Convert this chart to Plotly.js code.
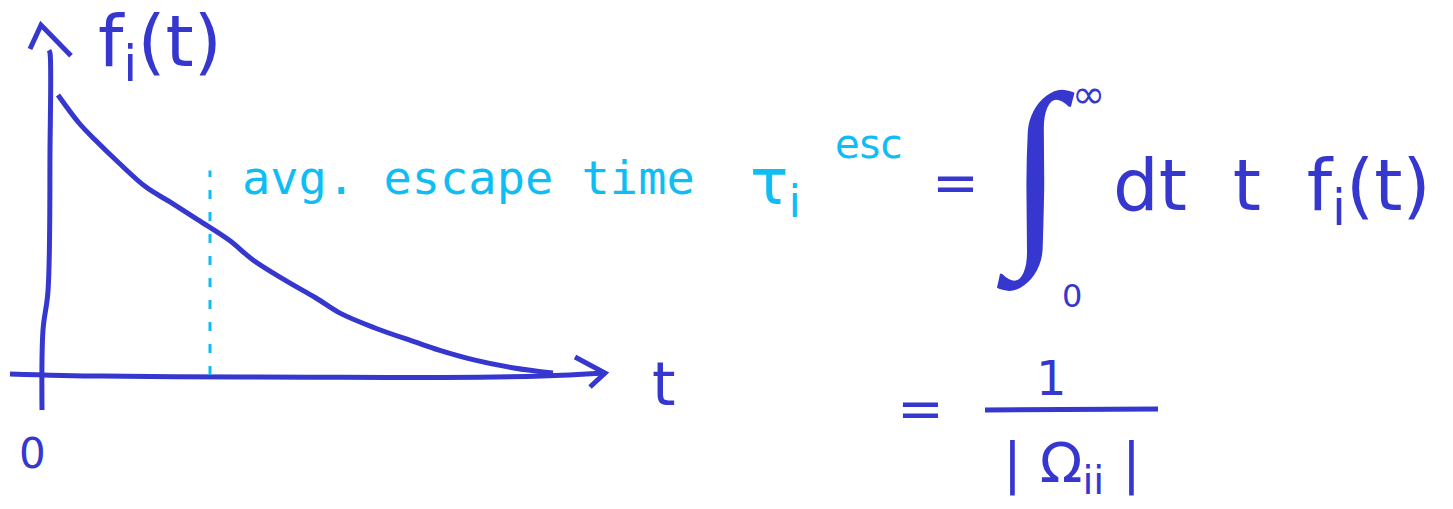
<!DOCTYPE html>
<html>
<head>
<meta charset="utf-8">
<script src="https://cdn.plot.ly/plotly-3.0.1.min.js"></script>
<style>
  html, body { margin: 0; padding: 0; background: #ffffff; }
  #plot { width: 1453px; height: 509px; }
</style>
</head>
<body>
<div id="plot"></div>
<script>
// Escape-time density f_i(t): sampled hand-drawn decay curve
const tValues = [0.16, 0.37, 0.53, 0.77, 1.04, 1.28, 1.56, 1.87, 2.11, 2.43, 2.74, 2.98, 3.33, 3.73, 3.97, 4.32, 4.72, 5.11];
const fValues = [1.0, 0.90, 0.84, 0.757, 0.671, 0.618, 0.554, 0.482, 0.411, 0.339, 0.275, 0.221, 0.168, 0.118, 0.089, 0.054, 0.025, 0.007];

// Average escape time marker
const avgEscapeT = 1.68;
const avgMarkerTop = 0.73;

// Hand-drawn axes (t horizontal, f vertical)
const tAxisT = [-0.32, 0.6, 2.0, 3.0, 4.0, 5.0, 5.63];
const tAxisF = [0.004, -0.004, -0.007, -0.008, -0.009, -0.004, 0.007];
const tArrowT = [5.33, 5.63, 5.48];
const tArrowF = [0.064, 0.007, -0.043];
const fAxisT = [0.0, 0.01, 0.06, 0.08, 0.08, 0.07];
const fAxisF = [-0.125, 0.16, 0.30, 0.80, 1.15, 1.16];
const fArrowT = [-0.12, -0.01, 0.29];
const fArrowF = [1.164, 1.25, 1.14];

const blue = '#3637cf';
const cyan = '#0fbdf4';
const W = 1453, H = 509;
const px = x => x / W;
const py = y => 1 - y / H;
const font = 'DejaVu Sans, sans-serif';

const traces = [
  { x: tAxisT, y: tAxisF, mode: 'lines', line: { color: blue, width: 5, shape: 'spline' }, hoverinfo: 'skip' },
  { x: tArrowT, y: tArrowF, mode: 'lines', line: { color: blue, width: 5 }, hoverinfo: 'skip' },
  { x: fAxisT, y: fAxisF, mode: 'lines', line: { color: blue, width: 5, shape: 'spline' }, hoverinfo: 'skip' },
  { x: fArrowT, y: fArrowF, mode: 'lines', line: { color: blue, width: 5 }, hoverinfo: 'skip' },
  { x: [avgEscapeT, avgEscapeT], y: [0, avgMarkerTop], mode: 'lines',
    line: { color: cyan, width: 3, dash: '9px,13px' }, hoverinfo: 'skip' },
  { x: tValues, y: fValues, mode: 'lines', line: { color: blue, width: 5, shape: 'spline' }, hoverinfo: 'skip' }
];

function label(text, x, y, size, color, extra) {
  return Object.assign({ text: text, x: px(x), y: py(y), xref: 'paper', yref: 'paper',
    showarrow: false, xanchor: 'center', yanchor: 'middle',
    font: { family: font, size: size, color: color } }, extra || {});
}

const annotations = [
  label('f<sub>i</sub>(t)', 160, 46, 72, blue),
  label('0', 32, 453, 42, blue),
  label('t', 664, 384, 60, blue),
  label('avg. escape time', 240, 178, 47, cyan,
    { xanchor: 'left', font: { family: 'DejaVu Sans Mono, monospace', size: 47, color: cyan } }),
  label('τ<sub>i</sub>', 775, 186, 64, cyan),
  label('esc', 868, 144, 40, cyan),
  label('=', 955, 182, 56, blue),
  label('∫', 1036, 172, 205, blue, { font: { family: 'Liberation Serif, serif', size: 205, color: blue } }),
  label('∞', 1088, 94, 40, blue),
  label('0', 1072, 296, 32, blue),
  label('dt  t  f<sub>i</sub>(t)', 1272, 190, 72, blue),
  label('=', 920, 408, 56, blue),
  label('1', 1051, 378, 48, blue),
  label('| Ω<sub>ii</sub> |', 1072, 466, 56, blue)
];

const shapes = [
  { type: 'line', xref: 'paper', yref: 'paper', x0: px(985), x1: px(1158), y0: py(410), y1: py(409),
    line: { color: blue, width: 5 } }
];

const layout = {
  width: W, height: H,
  margin: { l: 0, r: 0, t: 0, b: 0 },
  paper_bgcolor: '#ffffff', plot_bgcolor: '#ffffff',
  showlegend: false,
  xaxis: { range: [-0.42, 14.11], visible: false, fixedrange: true },
  yaxis: { range: [-0.4786, 1.3393], visible: false, fixedrange: true },
  annotations: annotations,
  shapes: shapes
};

Plotly.newPlot('plot', traces, layout, { displayModeBar: false, staticPlot: true });
</script>
</body>
</html>
